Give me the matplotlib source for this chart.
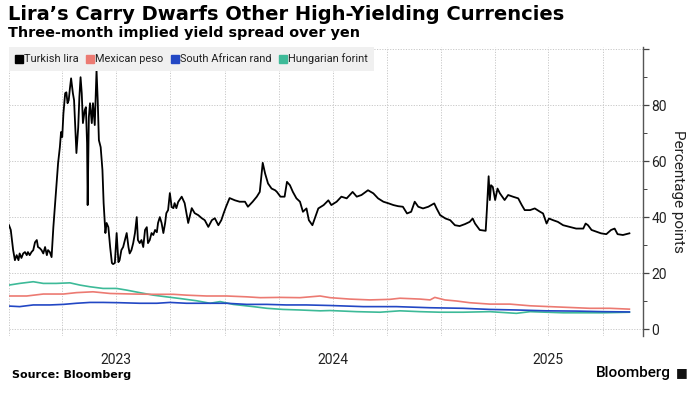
import matplotlib
matplotlib.use("Agg")
import matplotlib.pyplot as plt
import matplotlib.dates as mdates
from matplotlib.lines import Line2D
import pandas as pd
import numpy as np

# ---- data (days since 2023-01-01, value in percentage points) ----
START = "2023-01-01"
lira_days = [0, 3, 7, 10, 13, 16, 18, 21, 24, 27, 30, 32, 35, 38, 41, 44, 47, 49, 52, 55,
             58, 61, 64, 66, 69, 72, 75, 78, 80, 83, 86, 88, 90, 92, 95, 97, 99, 101, 103, 105,
             108, 110, 112, 114, 117, 119, 121, 123, 125, 128, 130, 132, 133, 135, 137, 140, 142, 145, 148, 150,
             152, 155, 158, 160, 163, 165, 168, 171, 174, 176, 179, 182, 185, 187, 190, 193, 196, 199, 202, 204,
             207, 210, 213, 216, 218, 221, 224, 227, 230, 233, 235, 238, 241, 244, 247, 250, 252, 255, 258, 261,
             264, 266, 269, 272, 275, 278, 280, 283, 286, 292, 297, 303, 309, 314, 320, 326, 331, 337, 343, 348,
             354, 359, 363, 367, 373, 382, 390, 399, 404, 412, 419, 424, 429, 433, 438, 444, 450, 453, 459, 466,
             470, 475, 480, 486, 492, 497, 503, 507, 513, 518, 523, 532, 540, 545, 554, 562, 571, 581, 588, 596,
             607, 616, 624, 633, 642, 650, 658, 666, 673, 680, 686, 692, 700, 709, 714, 719, 723, 729, 738, 746,
             754, 762, 771, 779, 784, 788, 796, 806, 808, 811, 813, 815, 818, 822, 826, 830, 838, 844, 852, 861,
             867, 872, 881, 889, 898, 903, 909, 913, 920, 928, 937, 948, 959, 971, 975, 979, 985, 993, 1001, 1010,
             1018, 1024, 1029, 1038, 1049]
lira = [37.1, 35.4, 28.2, 24.6, 26.4, 24.6, 27.0, 25.4, 27.0, 27.5, 26.4, 27.5, 26.4, 27.5, 28.2, 31.0, 31.8, 29.3, 28.9, 28.2,
        27.0, 29.3, 26.4, 28.2, 27.5, 25.7, 36.4, 45.0, 50.7, 59.3, 65.0, 70.4, 68.6, 77.0, 84.3, 84.6, 80.7, 81.8, 86.0, 89.6,
        84.3, 81.8, 72.0, 62.9, 72.0, 82.9, 90.0, 84.3, 73.6, 78.2, 79.3, 66.4, 44.3, 75.7, 80.7, 73.6, 80.7, 72.9, 92.5, 81.8,
        67.5, 65.0, 56.8, 45.0, 34.3, 37.9, 36.4, 29.3, 23.6, 23.2, 23.6, 34.3, 23.9, 24.6, 28.2, 29.3, 31.8, 34.3, 29.3, 27.0,
        28.2, 30.7, 34.3, 40.0, 31.8, 30.7, 31.8, 29.3, 35.4, 36.4, 30.7, 31.8, 34.3, 33.6, 35.4, 34.6, 37.9, 40.0, 37.9, 34.3,
        37.9, 41.4, 42.5, 48.6, 43.6, 43.2, 45.0, 43.2, 45.4, 47.3, 45.0, 37.9, 43.2, 41.4, 40.7, 39.6, 38.9, 36.5, 38.9, 39.6,
        37.1, 38.9, 41.4, 43.7, 46.8, 46.0, 45.5, 45.5, 43.7, 45.5, 47.3, 49.0, 59.4, 55.6, 52.0, 50.2, 49.6, 49.0, 47.3, 47.3,
        52.6, 51.4, 49.0, 46.7, 45.5, 41.9, 43.1, 38.9, 37.1, 40.1, 43.1, 44.3, 46.0, 44.3, 45.5, 47.3, 46.7, 49.0, 47.3, 47.9,
        49.6, 48.5, 46.7, 45.5, 44.9, 44.3, 43.9, 43.7, 41.3, 41.9, 45.5, 43.7, 43.1, 43.7, 44.3, 44.9, 43.1, 40.7, 39.5, 38.9,
        37.1, 36.8, 37.5, 38.3, 39.5, 37.7, 35.4, 35.1, 42.5, 54.6, 46.1, 51.4, 50.8, 46.1, 50.2, 48.5, 46.1, 47.9, 47.3, 46.7,
        44.3, 42.5, 42.5, 43.1, 41.9, 41.3, 37.7, 39.5, 38.9, 38.3, 37.1, 36.5, 35.9, 35.9, 37.7, 37.1, 35.4, 34.8, 34.2, 33.9,
        35.4, 35.9, 33.9, 33.6, 34.2]

peso_days = [0, 30, 58, 92, 114, 142, 171, 210, 244, 278, 300, 334, 368, 402, 425, 458, 492, 526, 543, 576,
             610, 644, 661, 695, 712, 720, 737, 757, 779, 813, 847, 881, 914, 948, 982, 1016, 1049]
peso = [11.8, 11.8, 12.5, 12.5, 13.0, 13.3, 12.7, 12.5, 12.4, 12.4, 12.1, 11.8, 11.8, 11.5, 11.2, 11.3, 11.2, 11.8, 11.2, 10.7,
        10.4, 10.6, 11.0, 10.7, 10.4, 11.3, 10.4, 10.0, 9.4, 8.9, 8.9, 8.3, 8.0, 7.7, 7.4, 7.4, 7.1]

rand_days = [0, 18, 41, 69, 92, 114, 137, 159, 187, 221, 250, 272, 300, 334, 368, 402, 436, 469, 503, 543,
             599, 655, 712, 768, 813, 858, 909, 960, 1005, 1049]
rand = [8.2, 8.0, 8.6, 8.6, 8.8, 9.2, 9.5, 9.5, 9.4, 9.2, 9.2, 9.5, 9.2, 9.2, 9.2, 8.8, 8.8, 8.6, 8.6, 8.4,
        8.0, 8.0, 7.6, 7.4, 7.0, 6.8, 6.5, 6.4, 6.2, 6.1]

forint_days = [0, 18, 41, 58, 80, 103, 120, 137, 159, 182, 199, 221, 244, 266, 289, 317, 340, 357, 379, 413,
               436, 463, 492, 526, 543, 588, 627, 661, 695, 729, 768, 813, 858, 881, 937, 1005, 1049]
forint = [15.7, 16.3, 16.9, 16.3, 16.3, 16.5, 15.7, 15.1, 14.5, 14.5, 13.9, 13.0, 12.1, 11.5, 10.9, 10.1, 9.2, 9.8, 8.8, 8.0,
          7.4, 7.0, 6.8, 6.5, 6.6, 6.2, 6.0, 6.5, 6.2, 6.0, 6.0, 6.2, 5.6, 6.2, 5.8, 5.8, 6.0]

series_names = ["Turkish lira", "Mexican peso", "South African rand", "Hungarian forint"]
series_colors = ["#000000", "#ec7a72", "#2247c4", "#3dba98"]
year_labels = ["2023", "2024", "2025"]
y_ticks = [0, 20, 40, 60, 80]

title = "Lira’s Carry Dwarfs Other High-Yielding Currencies"
subtitle = "Three-month implied yield spread over yen"
ylabel = "Percentage points"
source = "Source: Bloomberg"

# ---- figure ----
W, H = 694, 397
fig = plt.figure(figsize=(W / 100, H / 100), dpi=100)
ax = fig.add_axes([9 / W, 1 - 336 / H, (643 - 9) / W, (336 - 47) / H])

t0 = pd.Timestamp(START)
def to_dates(days):
    return t0 + pd.to_timedelta(np.asarray(days), unit="D")

all_days = [lira_days, peso_days, rand_days, forint_days]
all_vals = [lira, peso, rand, forint]
order = [3, 1, 2, 0]
for i in order:
    ax.plot(to_dates(all_days[i]), all_vals[i], color=series_colors[i],
            lw=1.3 if i == 0 else 1.2, solid_joinstyle="round", zorder=3 + (i == 0))

ax.set_xlim(t0, pd.Timestamp("2025-12-08"))
ax.set_ylim(-2.5, 100.8)

# x: year labels at mid-year (major), quarter gridlines (minor)
mid_years = [pd.Timestamp(f"{y}-07-01") for y in year_labels]
ax.set_xticks(mid_years)
ax.set_xticklabels(year_labels, family="Roboto")
ax.xaxis.set_minor_locator(mdates.MonthLocator(bymonth=[1, 4, 10]))
ax.tick_params(axis="x", which="both", length=0, pad=12, labelsize=10, labelcolor="#222222")

# y: right side
ax.yaxis.tick_right()
ax.yaxis.set_label_position("right")
ax.set_yticks(y_ticks + [100])
ax.set_yticklabels([str(v) for v in y_ticks] + [""], family="Roboto")
ax.set_yticks([10, 30, 50, 70, 90], minor=True)
ax.tick_params(axis="y", which="major", length=4, width=0.9, color="#444444", pad=2,
               labelsize=10, labelcolor="#222222", direction="out")
ax.tick_params(axis="y", which="minor", length=3, width=0.7, color="#444444", direction="out")
ax.set_ylabel(ylabel, rotation=270, labelpad=13, fontsize=11, color="#222222", family="Roboto")

grid_kw = dict(color="#c8c8c8", lw=0.7, ls=(0, (1.2, 1.5)))
ax.grid(True, which="major", axis="y", **grid_kw)
ax.grid(True, which="both", axis="x", **grid_kw)
ax.set_axisbelow(True)
for s in ["left", "top", "bottom"]:
    ax.spines[s].set_visible(False)
ax.spines["right"].set_color("#555555")
ax.spines["right"].set_linewidth(1.0)

# legend band
handles = [Line2D([], [], marker="s", ls="none", markersize=5.8, color=c) for c in series_colors]
leg = ax.legend(handles, series_names, loc="upper left", bbox_to_anchor=(0.0, 1.0), ncol=4,
                frameon=True, fancybox=False, framealpha=1, facecolor="#f0f0f0", edgecolor="none",
                prop={"family": "Roboto", "size": 7.9}, handlelength=0.6, handletextpad=0.15,
                columnspacing=0.75, borderpad=0.6, borderaxespad=0.0)
for txt in leg.get_texts():
    txt.set_color("#222222")
leg.set_zorder(5)

# titles
fig.text(8 / W, 1 - 15 / H, title, fontsize=14, fontweight="bold", va="center", ha="left", color="#000000")
fig.text(8 / W, 1 - 33 / H, subtitle, fontsize=10.4, fontweight="bold", va="center", ha="left", color="#000000")
fig.text(12 / W, 1 - 375 / H, source, fontsize=8, fontweight="bold", va="center", ha="left", color="#000000")
fig.text(671 / W, 1 - 373 / H, "Bloomberg", fontsize=11, fontweight="medium", family="Roboto",
         va="center", ha="right", color="#000000")
fig.text(682 / W, 1 - 373 / H, "\u25A0", fontsize=9, va="center", ha="center", color="#111111")

fig.savefig("out.png", dpi=100)
